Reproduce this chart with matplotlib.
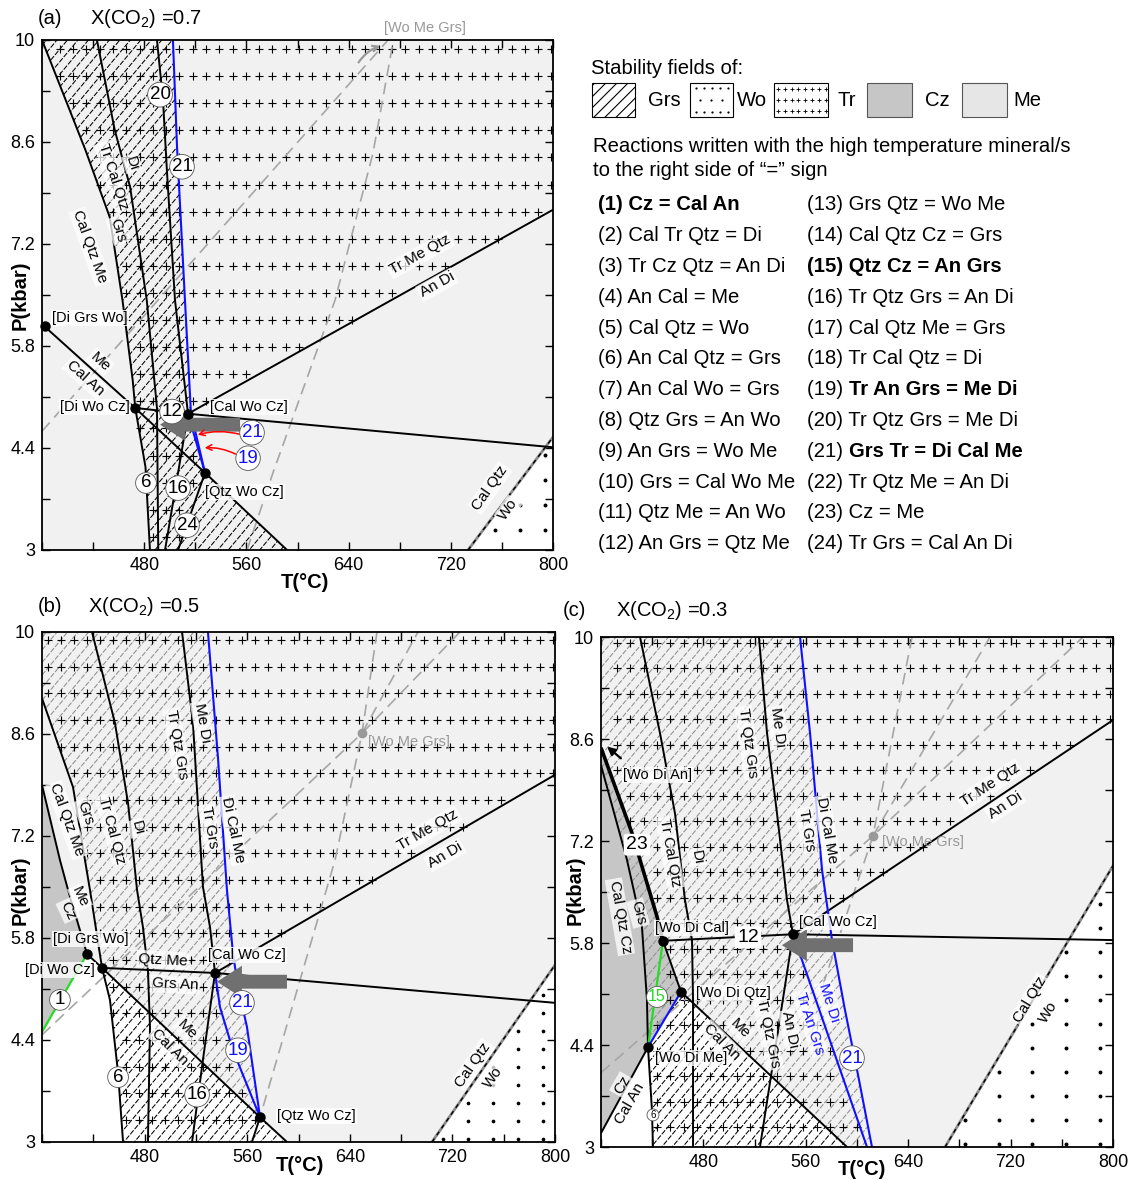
import numpy as np
import matplotlib
matplotlib.use("Agg")
import matplotlib.pyplot as plt
from matplotlib.patches import Polygon, Rectangle
from matplotlib.path import Path

plt.rcParams["font.family"] = ["Liberation Sans", "DejaVu Sans"]
plt.rcParams["mathtext.fontset"] = "custom"
plt.rcParams["mathtext.rm"] = "Liberation Sans"
plt.rcParams["hatch.linewidth"] = 0.8

# ---------------- axis ticks ----------------
T_TICKS = [400, 440, 480, 520, 560, 600, 640, 680, 720, 760, 800]
T_LABELS = ["", "", "480", "", "560", "", "640", "", "720", "", "800"]
P_TICKS = [3.0, 3.7, 4.4, 5.1, 5.8, 6.5, 7.2, 7.9, 8.6, 9.3, 10.0]
P_LABELS = ["3", "", "4.4", "", "5.8", "", "7.2", "", "8.6", "", "10"]

# ---------------- (a) X(CO2) = 0.7 ----------------
a_r17_T = [400, 434, 453, 463, 471, 473]
a_r17_P = [10, 8.49, 7.57, 6.43, 5.33, 4.95]
a_r6_T = [473, 481, 484.5]
a_r6_P = [4.95, 4.14, 3.0]
a_r18_T = [443, 457, 469, 482, 490, 491]
a_r18_P = [10, 8.76, 7.98, 6.43, 4.95, 3.0]
a_r20_T = [490, 494.7, 497.9, 504.1, 514.3]
a_r20_P = [10, 9.18, 8.17, 6.43, 4.87]
a_r21_T = [502.5, 505.7, 511.9, 516.6, 527.6]
a_r21_P = [10, 8.53, 6.43, 4.88, 4.06]
a_r19_T = [514.3, 527.6]
a_r19_P = [4.87, 4.06]
a_r16_T = [514.3, 496.3]
a_r16_P = [4.87, 3.0]
a_r24_T = [527.6, 506.5]
a_r24_P = [4.06, 3.0]
a_r12_T = [472.8, 514.3, 800]
a_r12_P = [4.95, 4.87, 4.41]
a_r4_T = [400, 472.8, 527.6, 591.8]
a_r4_P = [6.10, 4.95, 4.06, 3.0]
a_r22_T = [514.3, 800]
a_r22_P = [4.87, 7.67]
a_r5_T = [733.5, 800]
a_r5_P = [3.0, 4.55]
a_meta1_T = [400, 670.9]
a_meta1_P = [4.63, 10]
a_meta2_T = [560.5, 580.8, 629.4, 659.1, 674.8]
a_meta2_P = [3.0, 4.06, 6.43, 8.45, 9.97]
a_inv_T = [402.3, 472.8, 514.3, 527.6]
a_inv_P = [6.07, 4.95, 4.87, 4.06]

# ---------------- (b) X(CO2) = 0.5 ----------------
b_r23_T = [400, 414.0, 420.3, 435.1]
b_r23_P = [7.90, 6.87, 6.46, 5.58]
b_r17_T = [400, 424.2, 433.5, 437.4, 446.8]
b_r17_P = [9.09, 7.87, 6.87, 6.46, 5.39]
b_r6_T = [446.8, 453.0, 459.3, 463.2]
b_r6_P = [5.39, 4.95, 3.95, 3.0]
b_r18_T = [439.0, 456.9, 467.1, 474.1, 478.7, 482.6, 484.2, 482.6]
b_r18_P = [10, 8.75, 7.65, 6.46, 5.95, 5.36, 4.58, 3.0]
b_r20_T = [509.2, 517.7, 525.5, 531.0, 534.9]
b_r20_P = [10, 8.75, 6.50, 5.95, 5.32]
b_r21_T = [529.4, 537.2, 544.2, 548.9, 552.8, 559.8, 570.0]
b_r21_P = [10, 8.28, 6.46, 5.59, 5.13, 4.58, 3.34]
b_r19_T = [534.9, 538.8, 548.9, 570.0]
b_r19_P = [5.32, 4.85, 4.26, 3.34]
b_r1_T = [400, 435.1]
b_r1_P = [4.51, 5.58]
b_r12_T = [446.8, 534.9, 800]
b_r12_P = [5.39, 5.32, 4.91]
b_r4_T = [435.1, 446.8, 570.0, 591.0]
b_r4_P = [5.58, 5.39, 3.34, 3.0]
b_r22_T = [534.9, 800]
b_r22_P = [5.32, 8.04]
b_r16_T = [534.9, 525.5, 517.0]
b_r16_P = [5.32, 4.13, 3.0]
b_r24_T = [570.0, 563.7]
b_r24_P = [3.34, 3.0]
b_r5_T = [704.1, 800]
b_r5_P = [3.0, 5.43]
b_meta1_T = [400, 649.5, 725.9]
b_meta1_P = [4.47, 8.61, 10]
b_meta2_T = [661.2, 649.5, 628.5, 570.0]
b_meta2_P = [10, 8.61, 6.87, 3.34]
b_meta3_T = [649.5, 693.2]
b_meta3_P = [8.61, 10]
b_inv_T = [435.1, 446.8, 534.9, 570.0]
b_inv_P = [5.58, 5.39, 5.32, 3.34]
b_wmg_T = [649.5]
b_wmg_P = [8.61]

# ---------------- (c) X(CO2) = 0.3 ----------------
c_r23_T = [400, 424.2, 430.5, 443.8, 448.4]
c_r23_P = [8.48, 7.31, 6.94, 6.16, 5.83]
c_r23x_T = [448.4, 462.5]
c_r23x_P = [5.83, 5.13]
c_r14_T = [400, 420.3, 432.0, 435.9, 436.7]
c_r14_P = [8.24, 6.94, 6.02, 5.02, 4.37]
c_r15_T = [448.4, 436.7]
c_r15_P = [5.83, 4.37]
c_rb_T = [436.7, 462.5]
c_rb_P = [4.37, 5.13]
c_r1_T = [400, 436.7]
c_r1_P = [3.19, 4.37]
c_r6_T = [436.7, 439.8, 440.6]
c_r6_P = [4.37, 3.51, 3.0]
c_r4_T = [462.5, 592.2]
c_r4_P = [5.13, 3.0]
c_r18_T = [430.5, 446.1, 457.8, 465.6, 471.1, 471.9, 471.9]
c_r18_P = [10, 8.68, 7.58, 6.39, 5.84, 5.02, 3.0]
c_r20_T = [523.4, 529.7, 537.5, 545.3, 550.0]
c_r20_P = [10, 8.68, 7.58, 6.39, 5.92]
c_r21_T = [555.5, 563.3, 572.7, 580.5, 590.6, 600.8, 611.7]
c_r21_P = [10, 8.68, 6.80, 5.84, 4.88, 3.99, 3.0]
c_r19_T = [550.0, 607.8]
c_r19_P = [5.92, 3.0]
c_r12_T = [448.4, 550.0, 800]
c_r12_P = [5.83, 5.92, 5.84]
c_r22_T = [550.0, 800]
c_r22_P = [5.92, 8.86]
c_r16_T = [550.0, 524.2]
c_r16_P = [5.92, 3.0]
c_r5_T = [668.8, 800]
c_r5_P = [3.0, 6.86]
c_meta1_T = [400, 612.5, 776.6]
c_meta1_P = [4.02, 7.27, 10]
c_meta2_T = [643.0, 612.5, 572.0]
c_meta2_P = [10, 7.27, 5.15]
c_meta3_T = [612.5, 703.9]
c_meta3_P = [7.27, 10]
c_inv_T = [448.4, 462.5, 436.7, 550.0]
c_inv_P = [5.83, 5.13, 4.37, 5.92]
c_wmg_T = [612.5]
c_wmg_P = [7.27]

# ---------------- reaction list ----------------
REACTIONS_LEFT = ["(1) Cz = Cal An", "(2) Cal Tr Qtz = Di", "(3) Tr Cz Qtz = An Di",
                  "(4) An Cal = Me", "(5) Cal Qtz = Wo", "(6) An Cal Qtz = Grs",
                  "(7) An Cal Wo = Grs", "(8) Qtz Grs = An Wo", "(9) An Grs = Wo Me",
                  "(10) Grs = Cal Wo Me", "(11) Qtz Me = An Wo", "(12) An Grs = Qtz Me"]
REACTIONS_RIGHT = ["(13) Grs Qtz = Wo Me", "(14) Cal Qtz Cz = Grs", "(15) Qtz Cz = An Grs",
                   "(16) Tr Qtz Grs = An Di", "(17) Cal Qtz Me = Grs", "(18) Tr Cal Qtz = Di",
                   "(19) Tr An Grs = Me Di", "(20) Tr Qtz Grs = Me Di", "(21) Grs Tr = Di Cal Me",
                   "(22) Tr Qtz Me = An Di", "(23) Cz = Me", "(24) Tr Grs = Cal An Di"]
BOLD_ALL = {"(1)", "(15)"}
BOLD_TEXT = {"(19)", "(21)"}

ME = "#f1f1f1"
CZ = "#c6c6c6"
GREY_HATCH = "#8f8f8f"
BLUE = "#1010ff"
GREEN = "#22dd22"

W, H = 1130, 1180
fig = plt.figure(figsize=(W / 100, H / 100), dpi=100)


def ax_at(x0, y0, x1, y1):
    return fig.add_axes([x0 / W, 1 - y1 / H, (x1 - x0) / W, (y1 - y0) / H])


def seg(T, P, rev=False):
    pts = list(zip(T, P))
    return pts[::-1] if rev else pts


def chain(*parts):
    pts = []
    for p in parts:
        pts.extend(p)
    return np.array(pts, dtype=float)


def fill(ax, pts, color, z=0.2):
    ax.add_patch(Polygon(pts, closed=True, fc=color, ec="none", zorder=z))


def hatch(ax, pts, color, lw=0.75, z=0.6, step=0.0205, slope=1.2):
    clip = Polygon(pts, closed=True, fc="none", ec="none", transform=ax.transData)
    ax.add_patch(clip)
    for c in np.arange(-slope, 1.0, step * slope):
        ln, = ax.plot([0, 1], [c, c + slope], transform=ax.transAxes, color=color,
                      lw=lw, dashes=(5, 1.5), zorder=z)
        ln.set_clip_path(clip)


def stipple(ax, pts, T0, dT, P0, dP, marker, s, lw, z=0.8):
    path = Path(pts)
    TT, PP = np.meshgrid(np.arange(T0, 800, dT), np.arange(P0, 2.95, -dP))
    grid = np.column_stack([TT.ravel(), PP.ravel()])
    inside = grid[path.contains_points(grid)]
    if marker == "+":
        ax.scatter(inside[:, 0], inside[:, 1], marker="+", s=s, c="k",
                   linewidths=lw, zorder=z)
    else:
        ax.scatter(inside[:, 0], inside[:, 1], marker="o", s=s, c="k",
                   linewidths=0, zorder=z)


def line(ax, T, P, color="k", lw=1.4, z=3, **kw):
    ax.plot(T, P, color=color, lw=lw, zorder=z, solid_capstyle="butt", **kw)


def meta(ax, T, P):
    ax.plot(T, P, color="#a6a6a6", lw=1.2, dashes=(7, 4), zorder=2.5)


def wo_line(ax, T, P):
    ax.plot(T, P, color="#8a8a8a", lw=2.0, zorder=2.8)
    ax.plot(T, P, color="k", lw=1.0, dashes=(3, 3), zorder=2.9)


def label(ax, s, T, P, rot=0, color="k", fs=11, box=True):
    kw = {}
    if box:
        kw["bbox"] = dict(fc="white", ec="none", alpha=0.75, pad=1.2)
    ax.text(T, P, s, rotation=rot, rotation_mode="anchor", ha="center", va="center",
            fontsize=fs, color=color, zorder=11, **kw)


def ptlabel(ax, s, T, P, ha="center", color="k", fs=10.5):
    ax.text(T, P, s, ha=ha, va="center", fontsize=fs, color=color, zorder=11,
            bbox=dict(fc="white", ec="none", alpha=0.8, pad=0.8))


def circ(ax, s, T, P, color="k", fs=13.5, ec="#555555"):
    ax.text(T, P, s, ha="center", va="center", fontsize=fs, color=color, zorder=12,
            bbox=dict(boxstyle="circle,pad=0.1", fc="white", ec=ec, lw=0.6))


def boxed(ax, s, T, P, fs=14):
    ax.text(T, P, s, ha="center", va="center", fontsize=fs, zorder=12,
            bbox=dict(boxstyle="round,pad=0.12", fc="white", ec="none"))


def big_arrow(ax, T_tail, T_head, P):
    ax.annotate("", xy=(T_head, P), xytext=(T_tail, P),
                arrowprops=dict(arrowstyle="simple,head_length=0.9,head_width=1.15,tail_width=0.5",
                                fc="#707070", ec="none", shrinkA=0, shrinkB=0,
                                mutation_scale=20), zorder=8)


def setup(ax, xlab_pos, ylab_pos):
    ax.set_facecolor(ME)
    ax.set_xlim(400, 800)
    ax.set_ylim(3, 10)
    ax.set_xticks(T_TICKS)
    ax.set_xticklabels(T_LABELS)
    ax.set_yticks(P_TICKS)
    ax.set_yticklabels(P_LABELS)
    ax.tick_params(direction="in", length=6, width=1.0, top=True, right=True,
                   labelsize=13, pad=5)
    for s in ax.spines.values():
        s.set_linewidth(1.3)
        s.set_zorder(10)
    ax.text(xlab_pos[0], xlab_pos[1], "T(°C)", transform=ax.transAxes, ha="center",
            va="center", fontsize=14.5, fontweight="bold")
    ax.text(ylab_pos[0], ylab_pos[1], "P(kbar)", transform=ax.transAxes, ha="center",
            va="center", fontsize=14.5, fontweight="bold", rotation=90)


# =============== panel (a) ===============
axA = ax_at(42, 40, 553, 550)
setup(axA, (0.515, -0.063), (-0.043, 0.5))

a_wo = chain(seg(a_r5_T, a_r5_P), [(800, 3.0)])
fill(axA, a_wo, "white")
stipple(axA, a_wo, 715.5, 19.5, 4.3, 0.34, "o", 8, 0)

a_grs = chain([(400, 10)], seg(a_r21_T, a_r21_P), seg(a_r4_T[2:], a_r4_P[2:]),
              seg(a_r6_T, a_r6_P, True), seg(a_r17_T, a_r17_P, True))
hatch(axA, a_grs, "k")

a_tr = chain([(400, 10), (800, 10)], seg(a_r22_T, a_r22_P, True), seg(a_r19_T, a_r19_P)[1:],
             seg(a_r24_T, a_r24_P)[1:], seg(a_r6_T, a_r6_P, True), seg(a_r17_T, a_r17_P, True))
stipple(axA, a_tr, 414, 10.4, 9.876, 0.372, "+", 26, 0.8)

for T, P in [(a_meta1_T, a_meta1_P), (a_meta2_T, a_meta2_P)]:
    meta(axA, T, P)
wo_line(axA, a_r5_T, a_r5_P)
for T, P in [(a_r17_T, a_r17_P), (a_r6_T, a_r6_P), (a_r18_T, a_r18_P), (a_r20_T, a_r20_P),
             (a_r16_T, a_r16_P), (a_r24_T, a_r24_P), (a_r12_T, a_r12_P), (a_r4_T, a_r4_P),
             (a_r22_T, a_r22_P)]:
    line(axA, T, P)
line(axA, a_r21_T, a_r21_P, color=BLUE, lw=1.5)
line(axA, a_r19_T, a_r19_P, color=BLUE, lw=1.5)
axA.plot(a_inv_T, a_inv_P, "o", ms=6.5, color="k", zorder=13, clip_on=False)

for s, T, P, r in [("Cal Qtz Me", 437.6, 7.16, -70), ("Tr Cal Qtz", 455.6, 8.12, -72),
                   ("Di", 470.5, 8.31, -72), ("Grs", 459.5, 7.39, -72),
                   ("Me", 445.4, 5.58, -42), ("Cal An", 433.7, 5.36, -42),
                   ("Tr Me Qtz", 695.9, 7.05, 29), ("An Di", 709.2, 6.64, 29),
                   ("Cal Qtz", 750.7, 3.85, 55), ("Wo", 764.8, 3.55, 55)]:
    label(axA, s, T, P, r)
ptlabel(axA, "[Di Grs Wo]", 407.8, 6.18, "left")
ptlabel(axA, "[Di Wo Cz]", 468.9, 4.96, "right")
ptlabel(axA, "[Cal Wo Cz]", 531.5, 4.96, "left")
ptlabel(axA, "[Qtz Wo Cz]", 527.6, 3.80, "left")
for s, T, P, col in [("20", 492.4, 9.25, "k"), ("21", 509.6, 8.26, "k"), ("12", 501.8, 4.90, "k"),
                     ("6", 481.4, 3.92, "k"), ("16", 506.5, 3.85, "k"), ("24", 513.5, 3.34, "k"),
                     ("21", 564.4, 4.61, BLUE), ("19", 561.3, 4.26, BLUE)]:
    circ(axA, s, T, P, color=col)
big_arrow(axA, 555, 492.4, 4.72)
axA.annotate("", xy=(519.8, 4.57), xytext=(556.6, 4.58),
             arrowprops=dict(arrowstyle="->", color="red", lw=1.1,
                             connectionstyle="arc3,rad=0.15"), zorder=8)
axA.annotate("", xy=(525.2, 4.40), xytext=(553.4, 4.30),
             arrowprops=dict(arrowstyle="->", color="red", lw=1.1,
                             connectionstyle="arc3,rad=0.15"), zorder=8)
axA.annotate("", xy=(667, 9.93), xytext=(646.6, 9.66),
             arrowprops=dict(arrowstyle="->", color="#999999", lw=1.6,
                             connectionstyle="arc3,rad=-0.2"), zorder=8)
axA.text(699.8, 10.16, "[Wo Me Grs]", ha="center", va="center", fontsize=10.5,
         color="#999999", clip_on=False)

# =============== panel (b) ===============
axB = ax_at(42, 632, 555, 1142)
setup(axB, (0.503, -0.047), (-0.043, 0.494))

b_cz = chain(seg(b_r23_T, b_r23_P), seg(b_r1_T, b_r1_P, True))
fill(axB, b_cz, CZ)
b_white = chain(seg(b_r1_T, b_r1_P), seg(b_r4_T[:2], b_r4_P[:2])[1:], seg(b_r6_T, b_r6_P)[1:],
                [(400, 3.0)])
fill(axB, b_white, "white")
b_tri = chain(seg(b_r4_T[1:], b_r4_P[1:]), seg(b_r6_T, b_r6_P, True)[:-1])
fill(axB, b_tri, "white")
hatch(axB, b_tri, "k")
b_wo = chain(seg(b_r5_T, b_r5_P), [(800, 3.0)])
fill(axB, b_wo, "white")
stipple(axB, b_wo, 712.6, 19.5, 5.02, 0.248, "o", 7, 0)
b_grs = chain([(400, 10)], seg(b_r21_T, b_r21_P), seg(b_r4_T[1:3], b_r4_P[1:3], True)[1:],
              seg(b_r17_T, b_r17_P, True)[1:])
hatch(axB, b_grs, GREY_HATCH)
b_tr = chain([(400, 10), (800, 10)], seg(b_r22_T, b_r22_P, True), seg(b_r19_T, b_r19_P)[1:],
             seg(b_r24_T, b_r24_P)[1:], seg(b_r6_T, b_r6_P, True), seg(b_r17_T, b_r17_P, True)[1:])
stipple(axB, b_tr, 404.7, 10.1, 9.89, 0.366, "+", 26, 0.8)

for T, P in [(b_meta1_T, b_meta1_P), (b_meta2_T, b_meta2_P), (b_meta3_T, b_meta3_P)]:
    meta(axB, T, P)
wo_line(axB, b_r5_T, b_r5_P)
for T, P in [(b_r23_T, b_r23_P), (b_r17_T, b_r17_P), (b_r6_T, b_r6_P), (b_r18_T, b_r18_P),
             (b_r20_T, b_r20_P), (b_r12_T, b_r12_P), (b_r4_T, b_r4_P), (b_r22_T, b_r22_P),
             (b_r16_T, b_r16_P), (b_r24_T, b_r24_P)]:
    line(axB, T, P)
line(axB, b_r1_T, b_r1_P, color=GREEN, lw=1.6)
line(axB, b_r21_T, b_r21_P, color=BLUE, lw=1.5)
line(axB, b_r19_T, b_r19_P, color=BLUE, lw=1.5)
axB.plot(b_inv_T, b_inv_P, "o", ms=6.5, color="k", zorder=13)
axB.plot(b_wmg_T, b_wmg_P, "o", ms=6, color="#999999", zorder=9)

for s, T, P, r in [("Cal Qtz Me", 419.5, 7.42, -70), ("Grs", 433.5, 7.52, -70),
                   ("Tr Cal Qtz", 454.6, 7.28, -75), ("Di", 474.1, 7.31, -75),
                   ("Tr Qtz Grs", 505.3, 8.45, -80), ("Me Di", 524.8, 8.75, -80),
                   ("Tr Grs", 531.0, 7.32, -80), ("Di Cal Me", 548.9, 7.28, -78),
                   ("Me", 429.6, 6.36, -65), ("Cz", 420.3, 6.18, -65),
                   ("Qtz Me", 494.3, 5.50, -3), ("Grs An", 503.7, 5.16, -3),
                   ("Me", 513.1, 4.54, -45), ("Cal An", 499.8, 4.30, -45),
                   ("Tr Me Qtz", 701.0, 7.28, 30), ("An Di", 714.2, 6.94, 30),
                   ("Cal Qtz", 736.1, 4.06, 55), ("Wo", 751.6, 3.89, 55)]:
    label(axB, s, T, P, r)
ptlabel(axB, "[Di Grs Wo]", 438.2, 5.79)
ptlabel(axB, "[Di Wo Cz]", 441.3, 5.36, "right")
ptlabel(axB, "[Cal Wo Cz]", 559.8, 5.57)
ptlabel(axB, "[Qtz Wo Cz]", 583.2, 3.36, "left")
axB.text(654.2, 8.49, "[Wo Me Grs]", ha="left", va="center", fontsize=10.5, color="#999999",
         zorder=6)
for s, T, P, col in [("1", 414.0, 4.95, "k"), ("6", 459.3, 3.89, "k"), ("16", 520.9, 3.65, "k"),
                     ("21", 555.9, 4.91, BLUE), ("19", 552.8, 4.26, BLUE)]:
    circ(axB, s, T, P, color=col)
big_arrow(axB, 591.0, 536.4, 5.20)

# =============== panel (c) ===============
axC = ax_at(601, 637, 1113, 1147)
setup(axC, (0.51, -0.045), (-0.051, 0.504))

c_white = chain(seg(c_r1_T, c_r1_P), seg(c_r6_T, c_r6_P)[1:], [(400, 3.0)])
fill(axC, c_white, "white")
c_tri = chain(seg(c_rb_T, c_rb_P), seg(c_r4_T, c_r4_P)[1:], seg(c_r6_T, c_r6_P, True)[:-1])
fill(axC, c_tri, "white")
hatch(axC, c_tri, "k")
c_cz = chain(seg(c_r23_T, c_r23_P), seg(c_r23x_T, c_r23x_P)[1:], seg(c_rb_T, c_rb_P, True)[1:],
             seg(c_r1_T, c_r1_P, True)[1:])
fill(axC, c_cz, CZ)
c_wo = chain(seg(c_r5_T, c_r5_P), [(800, 3.0)])
fill(axC, c_wo, "white")
stipple(axC, c_wo, 684.4, 26.3, 6.34, 0.33, "o", 8, 0)
c_grs = chain([(400, 10)], seg(c_r21_T, c_r21_P), seg(c_r4_T, c_r4_P, True),
              seg(c_rb_T, c_rb_P, True)[1:], seg(c_r14_T, c_r14_P, True)[1:])
hatch(axC, c_grs, GREY_HATCH)
c_tr = chain([(400, 10), (800, 10)], seg(c_r22_T, c_r22_P, True), seg(c_r19_T, c_r19_P)[1:],
             seg(c_r6_T, c_r6_P, True), seg(c_r15_T, c_r15_P, True)[1:],
             seg(c_r23_T, c_r23_P, True)[1:])
stipple(axC, c_tr, 412.5, 10.4, 9.92, 0.35, "+", 26, 0.8)

for T, P in [(c_meta1_T, c_meta1_P), (c_meta2_T, c_meta2_P), (c_meta3_T, c_meta3_P)]:
    meta(axC, T, P)
wo_line(axC, c_r5_T, c_r5_P)
for T, P in [(c_r14_T, c_r14_P), (c_r23x_T, c_r23x_P), (c_r1_T, c_r1_P), (c_r6_T, c_r6_P),
             (c_r4_T, c_r4_P), (c_r18_T, c_r18_P), (c_r20_T, c_r20_P), (c_r12_T, c_r12_P),
             (c_r22_T, c_r22_P), (c_r16_T, c_r16_P)]:
    line(axC, T, P)
line(axC, c_r23_T, c_r23_P, lw=2.6)
line(axC, c_r15_T, c_r15_P, color=GREEN, lw=1.6)
line(axC, c_rb_T, c_rb_P, color=BLUE, lw=1.5)
line(axC, c_r21_T, c_r21_P, color=BLUE, lw=1.5)
line(axC, c_r19_T, c_r19_P, color=BLUE, lw=1.5)
axC.plot(c_inv_T, c_inv_P, "o", ms=6.5, color="k", zorder=13)
axC.plot(c_wmg_T, c_wmg_P, "o", ms=6, color="#999999", zorder=9)

for s, T, P, r in [("Cal Qtz Cz", 414.8, 6.16, -80), ("Grs", 428.9, 6.21, -75),
                   ("Tr Cal Qtz", 453.9, 7.04, -80), ("Di", 475.0, 6.98, -80),
                   ("Tr Qtz Grs", 514.8, 8.55, -82), ("Me Di", 538.3, 8.76, -82),
                   ("Tr Grs", 561.0, 7.35, -80), ("Di Cal Me", 576.6, 7.35, -80),
                   ("Me", 508.6, 4.63, -45), ("Cal An", 494.5, 4.44, -45),
                   ("Tr Qtz Grs", 530.5, 4.56, -78), ("An Di", 547.7, 4.61, -78),
                   ("Cz", 416.4, 3.85, 60), ("Cal An", 422.7, 3.60, 60),
                   ("Tr Me Qtz", 703.9, 7.97, 33), ("An Di", 715.6, 7.69, 33),
                   ("Cal Qtz", 735.2, 5.02, 59), ("Wo", 749.2, 4.85, 59)]:
    label(axC, s, T, P, r)
label(axC, "Me Di", 578.1, 4.98, -72, color=BLUE)
label(axC, "Tr An Grs", 563.3, 4.70, -72, color=BLUE)
ptlabel(axC, "[Wo Di Cal]", 471.1, 6.01)
ptlabel(axC, "[Wo Di Qtz]", 503.1, 5.11)
ptlabel(axC, "[Wo Di Me]", 470.3, 4.22)
ptlabel(axC, "[Cal Wo Cz]", 585.2, 6.09)
ptlabel(axC, "[Wo Di An]", 444.5, 8.11)
axC.text(619.5, 7.19, "[Wo Me Grs]", ha="left", va="center", fontsize=10.5, color="#999999",
         zorder=6)
boxed(axC, "23", 428.1, 7.15)
boxed(axC, "12", 514.8, 5.88)
circ(axC, "15", 443.8, 5.06, color=GREEN, fs=11.5)
circ(axC, "21", 596.1, 4.22, color=BLUE)
circ(axC, "6", 440.6, 3.44, fs=7)
axC.annotate("", xy=(403.1, 8.52), xytext=(417.2, 8.31),
             arrowprops=dict(arrowstyle="-|>", color="k", lw=1.6, mutation_scale=12), zorder=8)
big_arrow(axC, 596.9, 541.3, 5.77)

# =============== titles, legend and reaction list ===============
ov = fig.add_axes([0, 0, 1, 1])
ov.set_xlim(0, W)
ov.set_ylim(H, 0)
ov.axis("off")
ov.patch.set_alpha(0)

for tag, x_tag, x_x, y, xc in [("(a)", 38, 90, 18, "0.7"), ("(b)", 38, 88, 607, "0.5"),
                               ("(c)", 563, 616, 611, "0.3")]:
    ov.text(x_tag, y, tag, ha="left", va="center", fontsize=14.5)
    ov.text(x_x, y, r"X(CO$_{\mathregular{2}}$) =" + xc, ha="left", va="center", fontsize=14.5)

FS = 14.6
ov.text(591, 68, "Stability fields of:", ha="left", va="center", fontsize=FS)
BOX_Y0, BOX_H = 83, 34
ov.add_patch(Rectangle((592, BOX_Y0), 43, BOX_H, fc="white", ec="k", lw=0.8, hatch="///"))
ov.text(648, 101, "Grs", ha="left", va="center", fontsize=FS)
ov.add_patch(Rectangle((690, BOX_Y0), 43, BOX_H, fc="white", ec="k", lw=0.8))
for yy, xs in [(88, [696, 704, 712, 720, 728]), (100, [700, 711, 722]),
               (112, [696, 704, 712, 720, 728])]:
    ov.scatter(xs, [yy] * len(xs), s=2.5, c="k", marker="o", linewidths=0)
ov.text(737, 101, "Wo", ha="left", va="center", fontsize=FS)
ov.add_patch(Rectangle((774, BOX_Y0), 54, BOX_H, fc="white", ec="k", lw=0.8))
tx, ty = np.meshgrid(np.arange(778, 826, 6.8), [89, 100, 111])
ov.scatter(tx.ravel(), ty.ravel(), s=6, c="k", marker="+", linewidths=0.6)
ov.text(838, 101, "Tr", ha="left", va="center", fontsize=FS)
ov.add_patch(Rectangle((867, BOX_Y0), 45, BOX_H, fc=CZ, ec="#555555", lw=0.8))
ov.text(925, 101, "Cz", ha="left", va="center", fontsize=FS)
ov.add_patch(Rectangle((962, BOX_Y0), 45, BOX_H, fc="#e6e6e6", ec="#555555", lw=0.8))
ov.text(1013, 101, "Me", ha="left", va="center", fontsize=FS)

ov.text(593, 147, "Reactions written with the high temperature mineral/s", ha="left",
        va="center", fontsize=FS)
ov.text(593, 170, "to the right side of \u201c=\u201d sign", ha="left", va="center", fontsize=FS)

row_y = 205
dy = 30.8
for col_x, items in [(598, REACTIONS_LEFT), (807, REACTIONS_RIGHT)]:
    for i, r in enumerate(items):
        y = row_y + i * dy
        num, rest = r.split(" ", 1)
        if num in BOLD_ALL:
            ov.text(col_x, y, r, ha="left", va="center", fontsize=FS, fontweight="bold")
        elif num in BOLD_TEXT:
            t = ov.text(col_x, y, num + " ", ha="left", va="center", fontsize=FS)
            ov.annotate(rest, xycoords=t, xy=(1, 0.5), va="center", ha="left",
                        fontsize=FS, fontweight="bold")
        else:
            ov.text(col_x, y, r, ha="left", va="center", fontsize=FS)

fig.savefig("out.png", dpi=100)
